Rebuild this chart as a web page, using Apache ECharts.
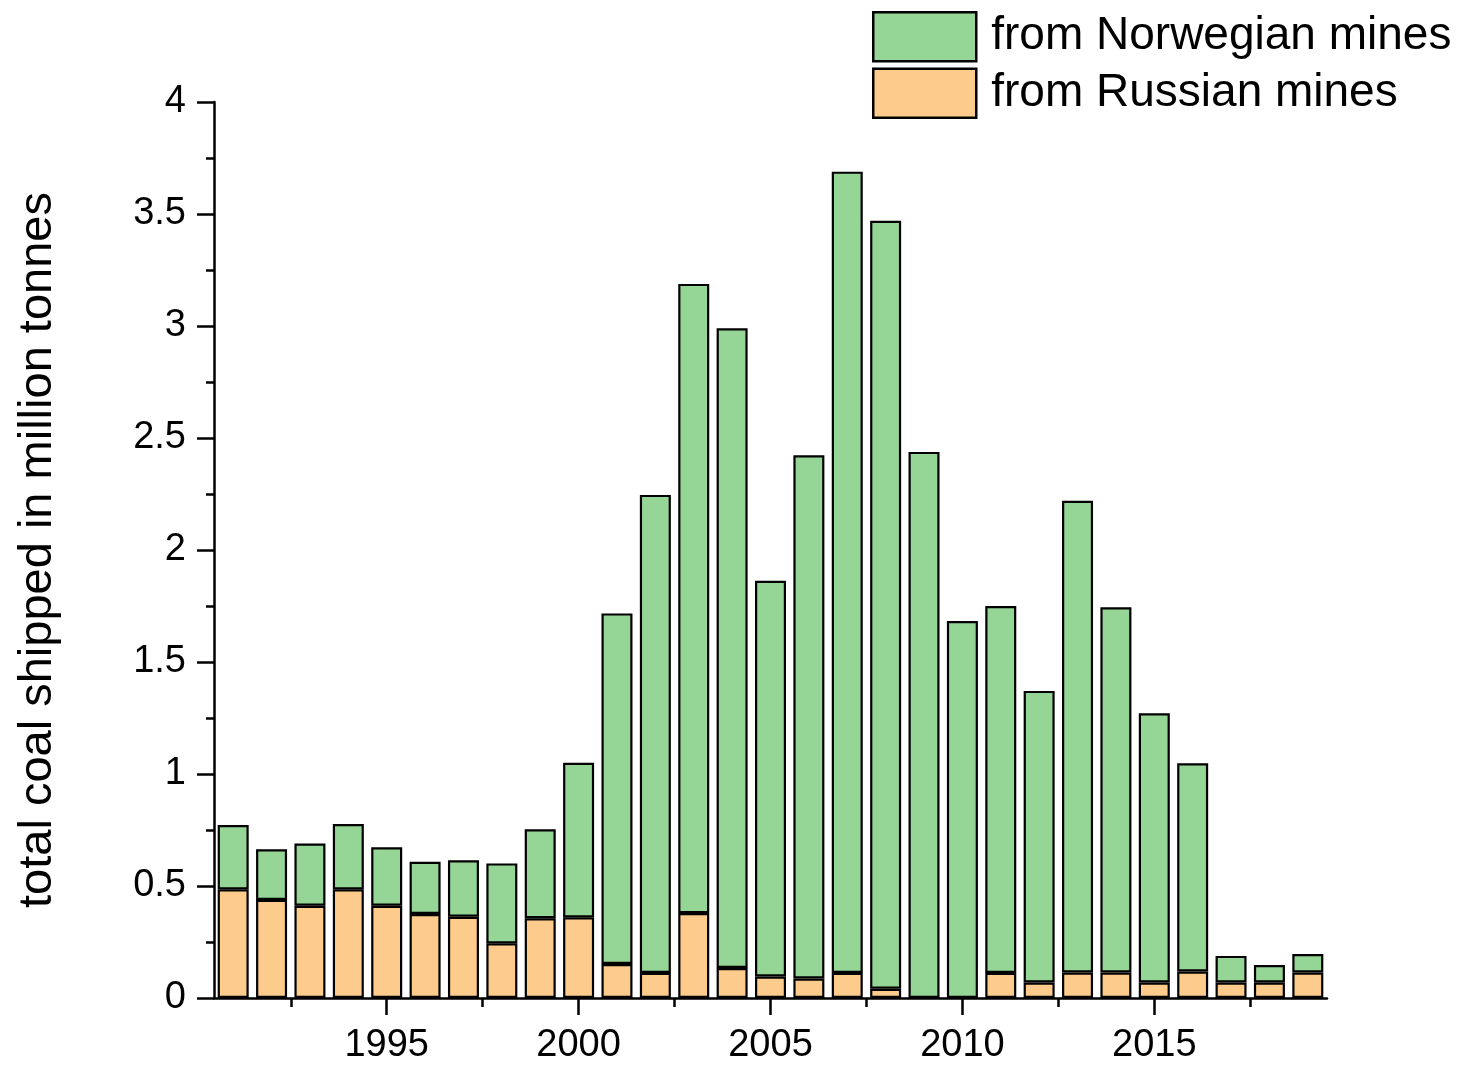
<!DOCTYPE html>
<html>
<head>
<meta charset="utf-8">
<script src="https://cdn.jsdelivr.net/npm/echarts@6/dist/echarts.min.js"></script>
<style>
html,body{margin:0;padding:0;background:#fff;}
#chart{width:1465px;height:1067px;}
</style>
</head>
<body>
<div id="chart"></div>
<script>
const years = [1991,1992,1993,1994,1995,1996,1997,1998,1999,2000,2001,2002,2003,2004,2005,2006,2007,2008,2009,2010,2011,2012,2013,2014,2015,2016,2017,2018,2019];
const russian = [0.485,0.438,0.412,0.485,0.412,0.375,0.363,0.244,0.356,0.360,0.152,0.112,0.379,0.134,0.096,0.087,0.112,0.041,0,0,0.112,0.069,0.114,0.114,0.069,0.118,0.069,0.069,0.114];
const norwegian = [0.287,0.226,0.278,0.292,0.261,0.233,0.252,0.357,0.397,0.690,1.565,2.134,2.809,2.856,1.767,2.336,3.577,3.429,2.438,1.683,1.638,1.302,2.106,1.630,1.202,0.930,0.119,0.078,0.082];
const majorXTicks = [1995,2000,2005,2010,2015];
const minorXTicks = [1992.5,1997.5,2002.5,2007.5,2012.5,2017.5];
const seriesNames = ['from Norwegian mines','from Russian mines'];
const yTitle = 'total coal shipped in million tonnes';

const FONT = 'Arial, "Liberation Sans", sans-serif';
const chart = echarts.init(document.getElementById('chart'), null, {renderer:'canvas'});
const lineStyle = {color:'#000', width:2.5};

chart.setOption({
  animation:false,
  backgroundColor:'#fff',
  grid:{left:214, top:102, right:138, bottom:69, containLabel:false},
  legend:{
    orient:'vertical', left:872, top:11, padding:0,
    itemWidth:103, itemHeight:49, itemGap:5,
    icon:'rect',
    data:[seriesNames[0], seriesNames[1]],
    itemStyle:{borderWidth:2.5, borderColor:'#000'},
    textStyle:{fontFamily:FONT, fontSize:46, color:'#000', padding:[0,0,0,10]}
  },
  xAxis:[{
    type:'category', data:years, boundaryGap:true, position:'bottom',
    axisLine:{show:true, onZero:false, lineStyle:lineStyle},
    axisTick:{show:false},
    axisLabel:{show:false},
    splitLine:{show:false}
  },{
    type:'value', min:1990.5, max:2019.5, position:'bottom', offset:0,
    axisLine:{show:false},
    axisTick:{show:true, customValues:majorXTicks, length:17, lineStyle:lineStyle},
    axisLabel:{customValues:majorXTicks, formatter:v => String(v), fontFamily:FONT, fontSize:38, color:'#000', margin:29},
    splitLine:{show:false}
  },{
    type:'value', min:1990.5, max:2019.5, position:'bottom', offset:0,
    axisLine:{show:false},
    axisTick:{show:true, customValues:minorXTicks, length:9, lineStyle:lineStyle},
    axisLabel:{show:false},
    splitLine:{show:false}
  }],
  yAxis:{
    type:'value', min:0, max:4, interval:0.5,
    name:yTitle, nameLocation:'middle', nameGap:152, nameRotate:90,
    nameTextStyle:{fontFamily:FONT, fontSize:47, color:'#000'},
    axisLine:{show:true, lineStyle:lineStyle},
    axisTick:{show:true, length:17, lineStyle:lineStyle},
    minorTick:{show:true, splitNumber:2, length:8, lineStyle:lineStyle},
    axisLabel:{fontFamily:FONT, fontSize:38, color:'#000', margin:28},
    splitLine:{show:false}
  },
  series:[{
    name:seriesNames[1], type:'bar', stack:'coal', xAxisIndex:0,
    barWidth:31, data:russian,
    itemStyle:{color:'#fdcc8d', borderColor:'#000', borderWidth:2.2}
  },{
    name:seriesNames[0], type:'bar', stack:'coal', xAxisIndex:0,
    barWidth:31, data:norwegian,
    itemStyle:{color:'#95d595', borderColor:'#000', borderWidth:2.2}
  }]
});
</script>
</body>
</html>
